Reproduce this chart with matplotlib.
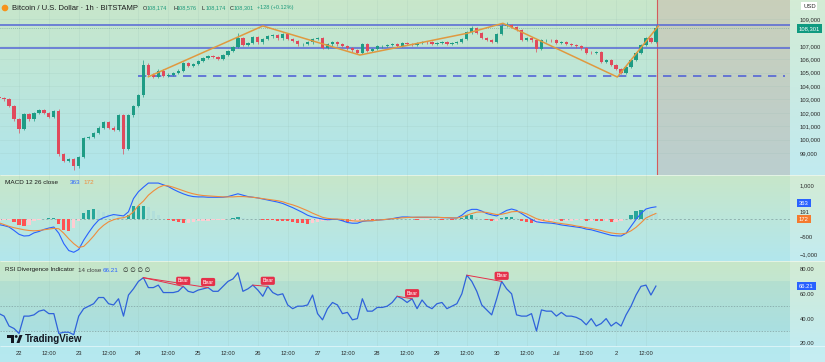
import matplotlib
matplotlib.use("Agg")
import matplotlib.pyplot as plt
from matplotlib.patches import Circle, Polygon, Rectangle
import numpy as np

plt.rcParams['font.family'] = ['Liberation Sans', 'DejaVu Sans']

# ---------------- data (hours from 22 Jun 00:00, one candle = 2 h) ----------------
first_hour = -8
bar_hours = 2
first_open = 103200

closes = [
    103100, 103000, 102500, 101500, 100800, 101900, 101500, 102000, 102200, 102000,
    101700, 102100, 98900, 98400, 98550, 98000, 98700, 100100, 100200, 100500,
    100900, 101300, 100900, 100700, 101800, 99300, 101800, 102500, 103300, 105600,
    104850, 104650, 105150, 104750, 104850, 104950, 105150, 105700, 105500, 105650,
    105850, 106100, 106250, 106150, 106050, 106300, 106600, 106900, 107600, 107050,
    107200, 107650, 107250, 107500, 107700, 107800, 107550, 107900, 107500, 107350,
    107100, 107150, 107250, 107500, 107550, 106850, 107100, 107300, 107100, 107000,
    106800, 106650, 106500, 107150, 106600, 106750, 106950, 107000, 107050, 107100,
    107000, 107200, 107150, 107050, 107200, 107300, 107250, 107150, 107200, 107250,
    107150, 107200, 107300, 107500, 108000, 108300, 107950, 107600, 107450, 107300,
    107900, 108500, 108550, 108400, 108200, 107450, 107550, 107400, 106750, 107400,
    107450, 107400, 107200, 107250, 107150, 107050, 106950, 106800, 106500, 106450,
    106550, 105800, 105950, 105550, 105250, 105000, 105400, 105950, 106450, 107050,
    107550, 107300, 108301,
]
# long wicks (candle index -> price)
wick_highs = {12: 102300, 29: 105950, 48: 107950, 95: 108450, 102: 108750, 132: 108576}
wick_lows = {4: 100500, 15: 97700, 25: 98900, 108: 106550, 125: 104900}

macd_line = [
    -150, -180, -220, -320, -430, -480, -470, -390, -350, -290,
    -250, -220, -400, -700, -900, -950, -870, -600, -380, -180,
    -20, 50, 100, 140, 120, 100, 220, 600, 800, 930,
    1050, 1050, 1050, 1000, 950, 870, 800, 740, 690, 660,
    650, 650, 640, 640, 640, 640, 660, 700, 740, 700,
    660, 640, 620, 590, 560, 530, 500, 460, 400, 340,
    270, 200, 120, 70, 40, 10, -10, 0, 0, -40,
    -90, -110, -110, -60, -40, -40, -20, -10, 0, 20,
    50, 70, 70, 60, 60, 60, 60, 60, 60, 50,
    50, 40, 40, 120, 240, 290, 290, 240, 170, 130,
    100, 180, 260, 300, 260, 170, 80, 0, -70, -90,
    -100, -110, -130, -160, -180, -200, -220, -240, -280, -300,
    -340, -380, -420, -460, -475, -480, -400, -200, 0, 170,
    300, 340, 363,
]
signal_line = [
    -100, -150, -200, -240, -270, -300, -320, -330, -320, -300,
    -280, -260, -270, -400, -560, -700, -810, -780, -640, -480,
    -300, -170, -70, -10, 30, 50, 100, 220, 400, 530,
    700, 820, 920, 980, 970, 930, 880, 830, 780, 740,
    710, 690, 680, 670, 660, 650, 650, 650, 660, 660,
    650, 640, 620, 600, 580, 560, 540, 510, 460, 420,
    370, 310, 250, 180, 120, 60, 30, 15, 10, 0,
    -20, -40, -50, -45, -40, -35, -20, -10, 5, 20,
    30, 45, 55, 60, 65, 65, 65, 60, 60, 55,
    50, 45, 40, 70, 120, 170, 210, 215, 200, 170,
    140, 150, 180, 220, 230, 210, 160, 90, 20, -20,
    -50, -70, -100, -120, -140, -160, -190, -210, -240, -260,
    -290, -320, -360, -390, -410, -420, -400, -330, -230, -100,
    40, 110, 172,
]
rsi = [
    44, 42, 34, 32, 28, 42, 42, 43, 46, 47,
    44, 44, 28, 29, 29, 27, 42, 48, 50, 52,
    57, 57, 52, 51, 56, 42, 59, 64, 70, 73,
    65, 65, 67, 61, 61, 61, 62, 66, 62, 61,
    63, 64, 65, 62, 62, 66, 70, 72, 77, 62,
    64, 67, 63, 58, 66, 61, 59, 60, 51, 48,
    50, 50, 51, 59, 44, 39, 48, 53, 51, 44,
    45, 39, 40, 56, 46, 46, 49, 49, 50, 53,
    58, 56, 53, 56, 48, 55, 50, 48, 52, 53,
    48, 50, 52, 60, 75, 70, 62, 51, 47, 43,
    56, 70, 64, 60, 43, 42, 42, 44, 30, 47,
    46, 46, 42, 45, 42, 42, 41, 39, 35, 40,
    34, 36, 40, 34, 37, 34, 43, 50, 59, 66,
    67, 59, 66.21,
]
# bearish divergences: (first pivot index, second pivot index)
bear_divs = [(29, 37), (29, 42), (51, 54), (80, 83), (94, 101)]

resistance_levels = [108575, 106800]
support_level = 104750
support_span = [48, 308]
zigzag_hours = [52, 98, 137, 180, 194.5, 240.5, 257]
zigzag_prices = [104690, 108480, 106310, 107930, 108680, 104670, 108480]
last_price = 108301
now_hour = 256.5

tick_hours = list(range(0, 253, 12))
tick_labels = ['22', '12:00', '23', '12:00', '24', '12:00', '25', '12:00',
               '26', '12:00', '27', '12:00', '28', '12:00', '29', '12:00',
               '30', '12:00', 'Jul', '12:00', '2', '12:00']
price_ticks = [99000, 100000, 101000, 102000, 103000, 104000,
               105000, 106000, 107000, 109000]
macd_ticks = [1000, -500, -1000]
rsi_ticks = [80, 60, 40, 20]

# ---------------- figure layout (pixel based) ----------------
W, H = 825, 362
fig = plt.figure(figsize=(W / 100, H / 100), dpi=100)


def frame(top, bottom):
    return [0, 1 - bottom / H, 790 / W, (bottom - top) / H]


bg = fig.add_axes([0, 0, 1, 1], zorder=-5)
bg.axis('off')


def gradient(top_rgb, bottom_rgb, y0, y1):
    f = np.linspace(0, 1, 64)[:, None]
    img = (np.array(top_rgb) * (1 - f) + np.array(bottom_rgb) * f) / 255
    bg.imshow(img[:, None, :], extent=(0, W, y1, y0), aspect='auto',
              interpolation='bilinear')


gradient((200, 231, 202), (176, 229, 236), 0, 175)
gradient((199, 231, 201), (178, 230, 237), 175, 261)
gradient((199, 231, 200), (178, 230, 237), 261, 346)
gradient((180, 232, 238), (182, 233, 240), 346, H)
bg.add_patch(Rectangle((790, 0), 35, H, fc='white', alpha=0.22, lw=0))
bg.hlines([175, 261, 346], 0, W, color='white', lw=0.6, alpha=0.6)
bg.set_xlim(0, W)
bg.set_ylim(H, 0)

ax_p = fig.add_axes(frame(0, 175))
ax_m = fig.add_axes(frame(175, 261), sharex=ax_p)
ax_r = fig.add_axes(frame(261, 346), sharex=ax_p)

t_left, t_right = -7.64, 309.9
label_kw = dict(length=0, pad=7, labelsize=4.2, labelcolor='#2a2a2a')
for ax in (ax_p, ax_m, ax_r):
    ax.set_facecolor('none')
    for s in ax.spines.values():
        s.set_visible(False)
    ax.yaxis.tick_right()
    ax.tick_params(axis='y', **label_kw)
    ax.tick_params(axis='x', length=0)
    ax.grid(axis='x', color='#8fb5ad', lw=0.4, alpha=0.25)
ax_p.set_xlim(t_left, t_right)
ax_p.tick_params(axis='x', labelbottom=False)
ax_m.tick_params(axis='x', labelbottom=False)

# ---------------- price panel ----------------
hours = first_hour + bar_hours * np.arange(len(closes))
opens = [first_open] + closes[:-1]
up, down = '#1e9c85', '#e04a5c'
colors = [up if c >= o else down for o, c in zip(opens, closes)]
highs = [wick_highs.get(i, max(o, c) + 90) for i, (o, c) in enumerate(zip(opens, closes))]
lows = [wick_lows.get(i, min(o, c) - 90) for i, (o, c) in enumerate(zip(opens, closes))]
body = np.array(closes) - np.array(opens)
body = np.where(np.abs(body) < 25, 25, body)

ax_p.axvspan(now_hour, t_right, color=(0.80, 0.68, 0.64), alpha=0.4, lw=0, zorder=0.5)
ax_p.axvline(now_hour, color='#d45b5b', lw=0.8, zorder=1)
ax_p.vlines(hours, lows, highs, colors=colors, lw=0.5, zorder=3)
ax_p.bar(hours, body, bottom=opens, width=1.3, color=colors, lw=0, zorder=3)
for lvl in resistance_levels:
    ax_p.axhline(lvl, color='#5565d6', lw=1.1, zorder=2)
ax_p.hlines(support_level, support_span[0], support_span[1], color='#5565d6',
            lw=1.2, linestyles=(0, (5, 4)), zorder=2)
ax_p.axhline(last_price, color='#5a9c8c', lw=0.5, ls=(0, (1, 2)), zorder=2)
ax_p.plot(zigzag_hours, zigzag_prices, color='#e0993f', lw=1.1, zorder=4)
ax_p.set_ylim(97358, 110418)
ax_p.set_yticks(price_ticks, [f'{v:,}' for v in price_ticks])
ax_p.grid(axis='y', color='#8fb5ad', lw=0.4, alpha=0.25)

ax_p.annotate(f'{last_price:,}', xy=(1, last_price), xycoords=ax_p.get_yaxis_transform(),
              xytext=(6.5, 0), textcoords='offset points', va='center', ha='left',
              fontsize=4.2, color='white', annotation_clip=False,
              bbox=dict(boxstyle='square,pad=0.3', fc='#0f9a80', ec='none'))

# ---------------- MACD panel ----------------
hist = np.array(macd_line) - np.array(signal_line)
prev = np.concatenate([[hist[0]], hist[:-1]])
hist_colors = np.where(hist >= 0,
                       np.where(hist >= prev, '#26a69a', '#b2dfdb'),
                       np.where(hist < prev, '#ff5252', '#ffcdd2'))
ax_m.axhline(0, color='#7f9fa0', lw=0.5, ls=(0, (3, 3)))
ax_m.bar(hours, hist, width=1.3, color=hist_colors, lw=0, zorder=2)
ax_m.plot(hours, macd_line, color='#2962ff', lw=0.8, zorder=3)
ax_m.plot(hours, signal_line, color='#f08c3c', lw=0.8, zorder=3)
ax_m.set_ylim(-1202, 1283)
ax_m.set_yticks(macd_ticks, ['1,000', '\u2212500', '\u22121,000'])

ytr = ax_m.get_yaxis_transform()
ax_m.annotate(f'{macd_line[-1]}', xy=(1, macd_line[-1]), xycoords=ytr, xytext=(6.5, 2.7),
              textcoords='offset points', va='center', fontsize=4.2, color='white',
              annotation_clip=False,
              bbox=dict(boxstyle='square,pad=0.3', fc='#2962ff', ec='none'))
ax_m.annotate(f'{int(hist[-1])}', xy=(1, hist[-1]), xycoords=ytr, xytext=(7, 0),
              textcoords='offset points', va='center', fontsize=4.2, color='#2a2a2a',
              annotation_clip=False)
ax_m.annotate(f'{signal_line[-1]}', xy=(1, signal_line[-1]), xycoords=ytr, xytext=(6.5, -4),
              textcoords='offset points', va='center', fontsize=4.2, color='white',
              annotation_clip=False,
              bbox=dict(boxstyle='square,pad=0.3', fc='#f57a2e', ec='none'))

# ---------------- RSI panel ----------------
ax_r.axhspan(30, 70, color='#7ec6cf', alpha=0.2, lw=0)
ax_r.axhline(50, color='#7f9fa0', lw=0.5, ls=(0, (2, 2)))
ax_r.axhline(30, color='#7f9fa0', lw=0.5, ls=(0, (2, 2)))
ax_r.plot(hours, rsi, color='#2f62da', lw=0.9, zorder=3)
for i1, i2 in bear_divs:
    ax_r.plot([hours[i1], hours[i2]], [rsi[i1], rsi[i2]], color='#e5304a', lw=0.7, zorder=4)
    ax_r.text(hours[i2], rsi[i2] + 4.5, 'Bear', fontsize=3.8, color='white',
              ha='center', va='center', zorder=5,
              bbox=dict(boxstyle='round,pad=0.3', fc='#e5304a', ec='none'))
ax_r.set_ylim(17.9, 86.45)
ax_r.set_yticks(rsi_ticks, [f'{v:.2f}' for v in rsi_ticks])
ax_r.annotate(f'{rsi[-1]:.2f}', xy=(1, rsi[-1]), xycoords=ax_r.get_yaxis_transform(),
              xytext=(6.5, 0), textcoords='offset points', va='center', fontsize=4.2,
              color='white', annotation_clip=False,
              bbox=dict(boxstyle='square,pad=0.3', fc='#2962ff', ec='none'))
ax_r.set_xticks(tick_hours, tick_labels)
ax_r.tick_params(axis='x', length=0, pad=3.5, labelsize=4.2, labelcolor='#2a2a2a')

# ---------------- headers, logo ----------------
fg = fig.add_axes([0, 0, 1, 1], zorder=10)
fg.set_facecolor('none')
fg.axis('off')
fg.set_xlim(0, W)
fg.set_ylim(H, 0)

fg.add_patch(Circle((5, 8), 3.3, fc='#f7931a', ec='none'))
fg.text(12, 8, 'Bitcoin / U.S. Dollar \u00b7 1h \u00b7 BITSTAMP', fontsize=5.5,
        color='#1a1a1a', va='center')
green_txt = '#1c9a7a'
for x, letter, val in [(143, 'O', '108,174'), (173, 'H', '108,576'),
                       (202, 'L', '108,174'), (230, 'C', '108,301')]:
    fg.text(x, 8, letter, fontsize=4.0, color='#1a1a1a', va='center')
    fg.text(x + 4, 8, val, fontsize=4.0, color=green_txt, va='center')
fg.text(257, 8, '+128 (+0.12%)', fontsize=4.0, color=green_txt, va='center')

fg.text(803, 6, 'USD', fontsize=4.2, color='#2a2a2a', va='center',
        bbox=dict(boxstyle='square,pad=0.3', fc='white', ec='none'))

fg.text(5, 182, 'MACD 12 26 close', fontsize=4.6, color='#1a1a1a', va='center')
fg.text(70, 182, f'{macd_line[-1]}', fontsize=4.6, color='#2962ff', va='center')
fg.text(83, 182, f'{signal_line[-1]}', fontsize=4.6, color='#f08c3c', va='center')

fg.text(5, 270, 'RSI Divergence Indicator', fontsize=4.5, color='#1a1a1a', va='center')
fg.text(78, 270, '14 close', fontsize=4.5, color='#444444', va='center')
fg.text(103, 270, f'{rsi[-1]:.2f}', fontsize=4.5, color='#2962ff', va='center')
fg.text(123, 270, '\u2205 \u2205 \u2205 \u2205', fontsize=4.5, color='#1a1a1a', va='center')

# TradingView logo
fg.add_patch(Polygon([(7, 335), (14, 335), (14, 343), (11, 343), (11, 337.5), (7, 337.5)],
                     closed=True, fc='#131722', ec='none'))
fg.add_patch(Circle((16.2, 336.5), 1.4, fc='#131722', ec='none'))
fg.add_patch(Polygon([(16.5, 343), (19.5, 335), (22.5, 335), (19.5, 343)],
                     closed=True, fc='#131722', ec='none'))
fg.text(25, 339, 'TradingView', fontsize=7, fontweight='bold', color='#131722', va='center')

fig.savefig('out.png', dpi=100)
